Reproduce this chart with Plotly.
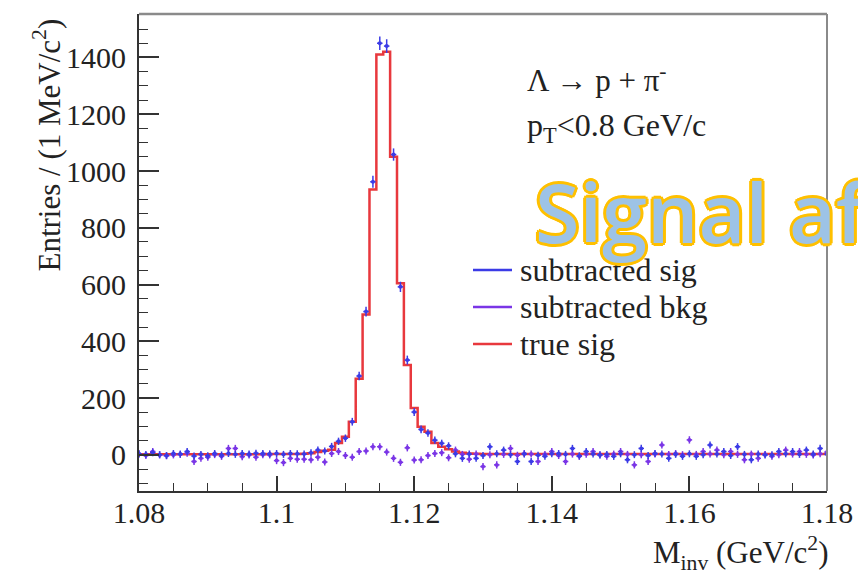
import numpy as np
import plotly.graph_objects as go

# ---------------- data ----------------
# bin centres (1 MeV/c^2 bins), GeV/c^2
mass_lo, mass_hi, n_bins = 1.080, 1.180, 101
mass = np.round(np.linspace(mass_lo, mass_hi, n_bins), 3)

true_sig = [2, 2, 2, 2, 2, 2, 2, 2, 2, 2,
            2, 2, 2, 2, 2, 2, 2, 2, 2, 3,
            3, 3, 3, 3, 4, 6, 10, 15, 18, 42,
            64, 117, 268, 495, 935, 1410, 1420, 1050, 605, 317,
            165, 99, 82, 42, 29, 20, 12, 8, 5, 4,
            3, 3, 3, 3, 3, 3, 3, 3, 3, 3,
            3, 3, 3, 3, 3, 3, 3, 3, 3, 3,
            3, 3, 3, 3, 3, 3, 3, 3, 3, 3,
            3, 3, 3, 3, 3, 3, 3, 3, 3, 3,
            3, 3, 3, 3, 3, 3, 3, 3, 3, 3,
            3]

sub_sig = [4, 2, 8, 1, -2, 5, 3, 12, -4, 2,
           -3, 5, 0, 5, 2, 5, 3, 6, 5, 4,
           5, 2, 5, 4, 3, 8, 17, 14, 30, 48,
           59, 117, 278, 505, 962, 1450, 1440, 1058, 592, 334,
           151, 90, 77, 52, 41, 32, 4, -12, 3, -12,
           -2, 29, 4, 17, 1, -23, 3, -23, -1, -5,
           4, 5, 2, 23, -3, 12, 3, 0, 2, -5,
           4, -17, 1, 23, -2, 5, 3, -12, 2, -5,
           4, -5, 1, 35, 3, 12, -2, 29, 2, -17,
           3, 0, 1, 12, 4, 12, 2, 17, 3, 23,
           2]

sub_bkg = [3, -2, 12, 0, -3, 0, 2, 6, -23, -12,
           -8, 1, -5, 23, 23, -6, 0, -8, 1, 0,
           -20, -27, -12, -15, -15, -17, -8, -25, 5, 12,
           -2, -8, 12, 14, 29, 29, 10, -12, -26, 25,
           -18, -17, -2, 5, 8, -10, 17, 2, -15, 3,
           -41, 1, -35, 2, 23, -1, 5, 3, -23, 2,
           12, -2, -23, 3, -5, 2, 12, 1, -5, 3,
           12, 2, -35, 1, -23, 3, 35, 2, 5, 1,
           53, 2, 12, 3, 17, 1, 12, 2, -17, 3,
           -12, 2, -5, 1, 17, 3, 12, 2, 0, 4,
           10]

x_tickvals = [1.08, 1.10, 1.12, 1.14, 1.16, 1.18]
x_ticktext = ["1.08", "1.1", "1.12", "1.14", "1.16", "1.18"]
y_tickvals = [0, 200, 400, 600, 800, 1000, 1200, 1400]
y_ticktext = ["0", "200", "400", "600", "800", "1000", "1200", "1400"]

legend_labels = ["subtracted sig", "subtracted bkg", "true sig"]

# ---------------- style ----------------
W, H = 858, 572
L, R, T, B = 139, 31, 14, 81
SERIF = "Liberation Serif, Times New Roman, serif"
C_SIG = "#3b3be6"
C_BKG = "#7a35e6"
C_TRUE = "#e8383d"
AXC = "#333333"


def px_x(px):
    return (px - L) / (W - L - R)


def px_y(py):
    return (H - B - py) / (H - T - B)


sig_arr = np.array(sub_sig, dtype=float)
bkg_arr = np.array(sub_bkg, dtype=float)
err_sig = np.sqrt(np.abs(sig_arr) * 0.3 + 150)
err_bkg = np.sqrt(np.abs(bkg_arr) * 0.3 + 150)

fig = go.Figure()

fig.add_trace(go.Scatter(
    x=mass, y=true_sig, mode="lines", line_shape="hvh",
    line=dict(color=C_TRUE, width=2.5), showlegend=False, name="true sig"))

fig.add_trace(go.Scatter(
    x=mass, y=sub_bkg, mode="markers", name="subtracted bkg", showlegend=False,
    marker=dict(color=C_BKG, size=4),
    error_y=dict(type="data", array=err_bkg, color=C_BKG, thickness=1.5, width=0),
    error_x=dict(type="constant", value=0.0004, color=C_BKG, thickness=1.5, width=0)))

fig.add_trace(go.Scatter(
    x=mass, y=sub_sig, mode="markers", name="subtracted sig", showlegend=False,
    marker=dict(color=C_SIG, size=4),
    error_y=dict(type="data", array=err_sig, color=C_SIG, thickness=1.5, width=0),
    error_x=dict(type="constant", value=0.0004, color=C_SIG, thickness=1.5, width=0)))

fig.update_xaxes(
    range=[mass_lo, mass_hi], tickvals=x_tickvals, ticktext=x_ticktext,
    ticks="inside", ticklen=15, tickwidth=1.5, tickcolor=AXC,
    minor=dict(dtick=0.005, ticks="inside", ticklen=8, tickwidth=1.2, tickcolor=AXC),
    showline=True, linecolor=AXC, linewidth=2, showgrid=False, zeroline=False,
    tickfont=dict(family=SERIF, size=30, color="#222"), ticklabelstandoff=-6,
    automargin=False)

fig.update_yaxes(
    range=[-127, 1553], tickvals=y_tickvals, ticktext=y_ticktext,
    ticks="inside", ticklen=20, tickwidth=1.5, tickcolor=AXC,
    minor=dict(dtick=50, ticks="inside", ticklen=9, tickwidth=1.2, tickcolor=AXC),
    showline=True, linecolor=AXC, linewidth=2, showgrid=False, zeroline=False,
    tickfont=dict(family=SERIF, size=30, color="#222"), ticklabelstandoff=5,
    automargin=False)

shapes = [
    dict(type="line", xref="paper", yref="paper", x0=0, x1=1, y0=1, y1=1,
         line=dict(color="#8a8a8a", width=2.5)),
    dict(type="line", xref="paper", yref="paper", x0=1, x1=1, y0=0, y1=1,
         line=dict(color="#8a8a8a", width=2)),
]
annotations = []

# legend (manual)
leg_colors = [C_SIG, C_BKG, C_TRUE]
leg_y = [270, 307, 344]
for lab, col, yy in zip(legend_labels, leg_colors, leg_y):
    shapes.append(dict(type="line", xref="paper", yref="paper",
                       x0=px_x(473), x1=px_x(512), y0=px_y(yy), y1=px_y(yy),
                       line=dict(color=col, width=2.5)))
    annotations.append(dict(text=lab, xref="paper", yref="paper",
                            x=px_x(518), y=px_y(yy), xanchor="left", yanchor="middle",
                            showarrow=False, font=dict(family=SERIF, size=32, color="#222")))

# physics labels
annotations.append(dict(text="\u039b \u2192 p + \u03c0<sup>-</sup>", xref="paper", yref="paper",
                        x=px_x(525), y=px_y(78), xanchor="left", yanchor="middle",
                        showarrow=False, font=dict(family=SERIF, size=31, color="#222")))
annotations.append(dict(text="p<sub>T</sub>&lt;0.8 GeV/c", xref="paper", yref="paper",
                        x=px_x(525), y=px_y(127), xanchor="left", yanchor="middle",
                        showarrow=False, font=dict(family=SERIF, size=32, color="#222")))

# axis titles
annotations.append(dict(text="Entries / (1 MeV/c<sup>2</sup>)", xref="paper", yref="paper",
                        x=px_x(47), y=px_y(17), xanchor="center", yanchor="top", textangle=-90,
                        showarrow=False, font=dict(family=SERIF, size=31, color="#222")))
annotations.append(dict(text="M<sub>inv</sub> (GeV/c<sup>2</sup>)", xref="paper", yref="paper",
                        x=px_x(830), y=px_y(553), xanchor="right", yanchor="middle",
                        showarrow=False, font=dict(family=SERIF, size=31, color="#222")))

# overlay text
outline = ", ".join(f"{dx}px {dy}px 0 #FFC000" for dx, dy in
                    [(-2, -2), (2, -2), (-2, 2), (2, 2), (0, 3), (0, -3), (3, 0), (-3, 0)])
annotations.append(dict(text="Signal after", xref="paper", yref="paper",
                        x=px_x(533), y=px_y(211), xanchor="left", yanchor="middle",
                        showarrow=False,
                        font=dict(family="Open Sans", size=81, color="#9DC3E6",
                                  weight=600, shadow=outline)))

fig.update_layout(
    width=W, height=H, margin=dict(l=L, r=R, t=T, b=B, pad=0),
    paper_bgcolor="white", plot_bgcolor="white",
    shapes=shapes, annotations=annotations, showlegend=False)

fig.write_html("out.html")
